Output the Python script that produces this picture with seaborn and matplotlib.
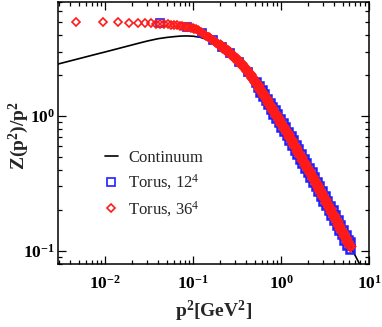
import matplotlib
matplotlib.use("Agg")
import matplotlib.pyplot as plt
import seaborn as sns
import numpy as np
import pandas as pd
from matplotlib.ticker import LogLocator, FuncFormatter, NullFormatter

# ---------------- data ----------------
# Continuum curve
p2_cont = [0.0029, 0.004, 0.006, 0.008, 0.01, 0.015, 0.02, 0.025, 0.03, 0.035,
           0.04, 0.05, 0.06, 0.07, 0.08, 0.09, 0.1, 0.12, 0.14, 0.16, 0.18,
           0.2, 0.25, 0.3, 0.4, 0.5, 0.7, 1.0, 1.5, 2.0, 3.0, 4.0, 5.0, 6.0,
           7.0, 8.0]
z_cont = [2.43, 2.565, 2.746, 2.882, 2.99, 3.203, 3.364, 3.494, 3.60, 3.68,
          3.75, 3.83, 3.88, 3.915, 3.93, 3.925, 3.91, 3.84, 3.72, 3.60, 3.47,
          3.33, 3.02, 2.70, 2.20, 1.82, 1.287, 0.882, 0.5635, 0.406, 0.253,
          0.179, 0.1366, 0.110, 0.0914, 0.0772]

# Torus 12^4
p2_t12 = [0.0422, 0.0848, 0.1265, 0.1675, 0.212, 0.263, 0.333, 0.419,
          0.5240, 0.5424, 0.5613, 0.5810, 0.6013, 0.6224, 0.6442, 0.6667,
          0.6901, 0.7142, 0.7392, 0.7651, 0.7919, 0.8196, 0.8483, 0.8780,
          0.9087, 0.9405, 0.9734, 1.0075, 1.0428, 1.0793, 1.1170, 1.1561,
          1.1966, 1.2385, 1.2818, 1.3267, 1.3731, 1.4212, 1.4709, 1.5224,
          1.5757, 1.6308, 1.6879, 1.7470, 1.8081, 1.8714, 1.9369, 2.0047,
          2.0749, 2.1475, 2.2227, 2.3005, 2.3810, 2.4643, 2.5506, 2.6398,
          2.7322, 2.8279, 2.9268, 3.0293, 3.1353, 3.2451, 3.3586, 3.4762,
          3.5979, 3.7238, 3.8541, 3.9890, 4.1286, 4.2731, 4.4227, 4.5775,
          4.7377, 4.9035, 5.0751, 5.2527, 5.4366, 5.6269, 5.8238, 6.0277,
          6.0277]
z_t12 = [4.88, 4.56, 4.13, 3.67, 3.27, 2.94, 2.53, 2.13,
         1.798, 1.633, 1.673, 1.519, 1.555, 1.412, 1.446, 1.313,
         1.345, 1.221, 1.250, 1.136, 1.163, 1.035, 1.103, 0.962,
         1.026, 0.895, 0.954, 0.832, 0.887, 0.774, 0.825, 0.720,
         0.766, 0.666, 0.708, 0.609, 0.661, 0.563, 0.611, 0.521,
         0.565, 0.482, 0.522, 0.445, 0.483, 0.412, 0.446, 0.381,
         0.413, 0.352, 0.382, 0.325, 0.353, 0.301, 0.326, 0.278,
         0.301, 0.256, 0.277, 0.235, 0.255, 0.217, 0.234, 0.199,
         0.216, 0.183, 0.199, 0.169, 0.183, 0.155, 0.168, 0.143,
         0.155, 0.132, 0.142, 0.121, 0.131, 0.111, 0.121, 0.103,
         0.116]

# Torus 36^4
p2_t36 = [0.0047, 0.0094, 0.0141, 0.0188, 0.0235, 0.0282, 0.0329, 0.0376,
          0.0423, 0.0470, 0.0517, 0.0564, 0.0611, 0.0658, 0.0705, 0.0752,
          0.0799, 0.0846, 0.0893, 0.0940, 0.0987, 0.1034, 0.1081, 0.1128,
          0.1175, 0.1222, 0.1269, 0.1316, 0.1363, 0.1410, 0.1457, 0.1504,
          0.1551, 0.1598, 0.1645, 0.1692, 0.1739, 0.1786, 0.1833, 0.1880,
          0.1927,
          0.2000, 0.2070, 0.2142, 0.2217, 0.2295, 0.2375, 0.2459, 0.2545,
          0.2634, 0.2726, 0.2821, 0.2920, 0.3022, 0.3128, 0.3238, 0.3351,
          0.3468, 0.3590, 0.3715, 0.3845, 0.3980, 0.4119, 0.4263, 0.4412,
          0.4567, 0.4727, 0.4892, 0.5063, 0.5240, 0.5424, 0.5613, 0.5810,
          0.6013, 0.6224, 0.6442, 0.6667, 0.6901, 0.7142, 0.7392, 0.7651,
          0.7919, 0.8196, 0.8483, 0.8780, 0.9087, 0.9405, 0.9734, 1.0075,
          1.0428, 1.0793, 1.1170, 1.1561, 1.1966, 1.2385, 1.2818, 1.3267,
          1.3731, 1.4212, 1.4709, 1.5224, 1.5757, 1.6308, 1.6879, 1.7470,
          1.8081, 1.8714, 1.9369, 2.0047, 2.0749, 2.1475, 2.2227, 2.3005,
          2.3810, 2.4643, 2.5506, 2.6398, 2.7322, 2.8279, 2.9268, 3.0293,
          3.1353, 3.2451, 3.3586, 3.4762, 3.5979, 3.7238, 3.8541, 3.9890,
          4.1286, 4.2731, 4.4227, 4.5775, 4.7377, 4.9035, 5.0751, 5.2527,
          5.4366, 5.6269, 5.8238, 6.0277]
z_t36 = [4.96, 4.96, 4.95, 4.94, 4.92, 4.90, 4.88, 4.86,
         4.83, 4.81, 4.79, 4.76, 4.74, 4.71, 4.68, 4.65,
         4.61, 4.57, 4.54, 4.51, 4.47, 4.43, 4.39, 4.34,
         4.28, 4.22, 4.15, 4.08, 4.02, 3.95, 3.89, 3.83,
         3.78, 3.73, 3.68, 3.64, 3.59, 3.55, 3.51, 3.46,
         3.42,
         3.365, 3.308, 3.253, 3.198, 3.144, 3.091, 3.039, 2.988,
         2.937, 2.873, 2.811, 2.750, 2.691, 2.633, 2.576, 2.518,
         2.454, 2.392, 2.331, 2.271, 2.214, 2.157, 2.097, 2.034,
         1.974, 1.915, 1.857, 1.802, 1.746, 1.684, 1.624, 1.566,
         1.510, 1.456, 1.404, 1.354, 1.306, 1.259, 1.214, 1.171,
         1.129, 1.089, 1.050, 1.013, 0.9767, 0.9419, 0.9083, 0.8759,
         0.8447, 0.8146, 0.7856, 0.7576, 0.7292, 0.7012, 0.6742, 0.6483,
         0.6234, 0.5994, 0.5764, 0.5542, 0.5329, 0.5124, 0.4927, 0.4737,
         0.4555, 0.4380, 0.4211, 0.4049, 0.3894, 0.3744, 0.3600, 0.3461,
         0.3328, 0.3200, 0.3077, 0.2957, 0.2837, 0.2721, 0.2611, 0.2505,
         0.2403, 0.2305, 0.2211, 0.2121, 0.2035, 0.1952, 0.1873, 0.1797,
         0.1724, 0.1654, 0.1586, 0.1522, 0.1460, 0.1401, 0.1344, 0.1289,
         0.1237, 0.1186, 0.1138, 0.1092]

labels = ["Continuum", r"Torus, 12$^4$", r"Torus, 36$^4$"]
xlabel = r"$\mathbf{p^2[GeV^2]}$"
ylabel = r"$\mathbf{Z(p^2)/p^2}$"

BLUE = "#2020ff"
RED = "#ff1a1a"

# ---------------- style ----------------
sns.set_style("ticks")
plt.rcParams["font.family"] = ["Liberation Serif", "DejaVu Serif"]
plt.rcParams["mathtext.fontset"] = "custom"
plt.rcParams["mathtext.rm"] = "Liberation Serif"
plt.rcParams["mathtext.it"] = "Liberation Serif:italic"
plt.rcParams["mathtext.bf"] = "Liberation Serif:bold"

fig = plt.figure(figsize=(3.82, 3.27), dpi=100)
ax = fig.add_axes([58 / 382, 1 - 264 / 327, 311 / 382, 262 / 327])

df_c = pd.DataFrame({"p2": p2_cont, "z": z_cont})
df_12 = pd.DataFrame({"p2": p2_t12, "z": z_t12})
df_36 = pd.DataFrame({"p2": p2_t36, "z": z_t36})

sns.lineplot(data=df_c, x="p2", y="z", ax=ax, color="black", lw=1.2,
             estimator=None, sort=False, label=labels[0], zorder=2)

# Torus 12^4: sparse part drawn thin, dense part with heavier edges
sparse12 = df_12["p2"] < 0.5
sns.lineplot(data=df_12[sparse12], x="p2", y="z", ax=ax, linestyle="", marker="s",
             ms=5.4, mfc="none", mec=BLUE, mew=1.2, color=BLUE,
             estimator=None, sort=False, label=labels[1], zorder=3)
sns.lineplot(data=df_12[~sparse12], x="p2", y="z", ax=ax, linestyle="", marker="s",
             ms=5.6, mfc="none", mec=BLUE, mew=1.8, color=BLUE,
             estimator=None, sort=False, legend=False, zorder=3)

# Torus 36^4
sparse36 = df_36["p2"] < 0.2
sns.lineplot(data=df_36[sparse36], x="p2", y="z", ax=ax, linestyle="", marker="D",
             ms=3.8, mfc="none", mec=RED, mew=1.2, color=RED,
             estimator=None, sort=False, label=labels[2], zorder=4)
sns.lineplot(data=df_36[~sparse36], x="p2", y="z", ax=ax, linestyle="", marker="D",
             ms=3.8, mfc="none", mec=RED, mew=2.4, color=RED,
             estimator=None, sort=False, legend=False, zorder=4)

ax.set_xscale("log")
ax.set_yscale("log")
ax.set_xlim(0.0029, 10)
ax.set_ylim(0.0796, 7.02)

ax.xaxis.set_major_locator(LogLocator(base=10, numticks=10))
ax.yaxis.set_major_locator(LogLocator(base=10, numticks=10))
ax.xaxis.set_minor_locator(LogLocator(base=10, subs=np.arange(2, 10), numticks=20))
ax.yaxis.set_minor_locator(LogLocator(base=10, subs=np.arange(2, 10), numticks=20))
fmt = FuncFormatter(lambda v, pos: r"$\mathbf{10^{%d}}$" % int(round(np.log10(v))))
ax.xaxis.set_major_formatter(fmt)
ax.yaxis.set_major_formatter(fmt)
ax.xaxis.set_minor_formatter(NullFormatter())
ax.yaxis.set_minor_formatter(NullFormatter())

ax.tick_params(which="both", direction="in", top=True, right=True,
               width=0.9, colors="black", labelsize=12.5)
ax.tick_params(which="major", length=6)
ax.tick_params(which="minor", length=3)
ax.tick_params(axis="x", which="major", pad=8)
ax.tick_params(axis="y", which="major", pad=2)
for s in ax.spines.values():
    s.set_linewidth(1.1)
    s.set_color("black")

ax.set_xlabel(xlabel, fontsize=14)
ax.set_ylabel(ylabel, fontsize=14)
ax.xaxis.set_label_coords(0.5, -0.132)
ax.yaxis.set_label_coords(-0.088, 0.49)

leg = ax.legend(loc="upper left", bbox_to_anchor=(0.150, 0.437),
                frameon=False, borderpad=0, borderaxespad=0,
                handlelength=0.8, handletextpad=0.6, labelspacing=0.42,
                prop={"family": "Liberation Serif", "size": 12})

fig.savefig("out.png", dpi=100)
